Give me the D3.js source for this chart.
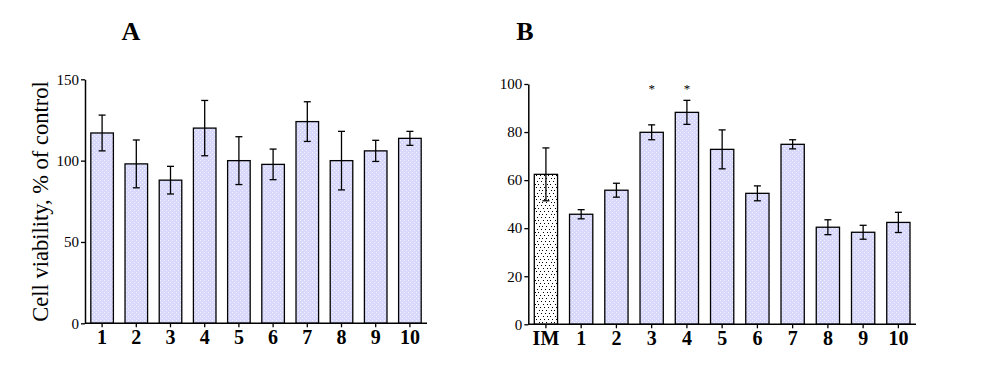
<!DOCTYPE html>
<html><head><meta charset="utf-8">
<script src="https://cdn.jsdelivr.net/npm/d3@7"></script>
<style>body{margin:0;background:#fff}svg{display:block}</style>
</head><body>
<svg id="c" width="985" height="377"></svg>
<script>
// Panel A
const catsA = ["1","2","3","4","5","6","7","8","9","10"];
const valsA = [117, 98, 88, 120, 100, 97.7, 124, 100, 106, 113.7];
const errA  = [11, 14.7, 8.5, 17, 14.7, 9.4, 12.2, 18, 6.5, 4.3];
const ticksA = [0, 50, 100, 150];
// Panel B
const catsB = ["IM","1","2","3","4","5","6","7","8","9","10"];
const valsB = [62.4, 45.8, 55.8, 79.9, 88.2, 72.8, 54.5, 74.9, 40.4, 38.3, 42.4];
const errB  = [11, 1.9, 2.9, 3.1, 5, 8.1, 3.1, 1.9, 3.1, 2.9, 4.2];
const ticksB = [0, 20, 40, 60, 80, 100];
const starsB = ["3","4"];

const svg = d3.select("#c");
const font = "'Liberation Serif','Times New Roman',serif";

const defs = svg.append("defs");
const p1 = defs.append("pattern").attr("id","lav").attr("patternUnits","userSpaceOnUse")
  .attr("width",4).attr("height",4);
p1.append("rect").attr("width",4).attr("height",4).attr("fill","#d8d8fd");
p1.append("rect").attr("x",0).attr("y",0).attr("width",1).attr("height",1).attr("fill","#f6f6ff");
p1.append("rect").attr("x",2).attr("y",2).attr("width",1).attr("height",1).attr("fill","#f6f6ff");
const p2 = defs.append("pattern").attr("id","dots").attr("patternUnits","userSpaceOnUse")
  .attr("width",12).attr("height",12);
p2.append("rect").attr("width",12).attr("height",12).attr("fill","#fff");
[[1,1],[5,1],[9,1],[3,4],[7,4],[10,4],[0,7],[4,7],[8,7],[2,10],[6,10],[11,10]].forEach(([x,y])=>
  p2.append("rect").attr("x",x).attr("y",y).attr("width",1).attr("height",1).attr("fill","#000"));

function panel(cfg){
  const {cats, vals, errs, ticks, x0, x1, y0, y1, ymax, title, titleX, stars, fills} = cfg;
  const x = d3.scaleBand().domain(cats).range([x0, x1]).paddingInner(0.34).paddingOuter(0.17);
  const y = d3.scaleLinear().domain([0, ymax]).range([y0, y1]);
  const g = svg.append("g");
  // bars
  g.selectAll("rect.bar").data(cats).join("rect")
    .attr("x", d=>x(d)).attr("width", x.bandwidth())
    .attr("y", (d,i)=>y(vals[i])).attr("height", (d,i)=>y0 - y(vals[i]))
    .attr("fill", (d,i)=>fills(i)).attr("stroke","#000").attr("stroke-width",1.3);
  // error bars
  const eb = g.selectAll("g.eb").data(cats).join("g");
  eb.append("line").attr("x1", d=>x(d)+x.bandwidth()/2).attr("x2", d=>x(d)+x.bandwidth()/2)
    .attr("y1",(d,i)=>y(vals[i]+errs[i])).attr("y2",(d,i)=>y(vals[i]-errs[i]))
    .attr("stroke","#000").attr("stroke-width",1.3);
  [1,-1].forEach(s=>{
    eb.append("line").attr("x1", d=>x(d)+x.bandwidth()/2-3.5).attr("x2", d=>x(d)+x.bandwidth()/2+3.5)
      .attr("y1",(d,i)=>y(vals[i]+s*errs[i])).attr("y2",(d,i)=>y(vals[i]+s*errs[i]))
      .attr("stroke","#000").attr("stroke-width",1.3);
  });
  // y axis
  const ya = g.append("g").attr("transform",`translate(${x0},0)`)
    .call(d3.axisLeft(y).tickValues(ticks).tickSize(4).tickSizeOuter(0).tickPadding(2));
  ya.select(".domain").attr("stroke-width",1.5);
  ya.selectAll(".tick line").attr("stroke-width",1.3);
  ya.selectAll("text").attr("font-family",font).attr("font-size","15px").attr("fill","#000");
  // x axis
  const xa = g.append("g").attr("transform",`translate(0,${y0})`)
    .call(d3.axisBottom(x).tickSize(4).tickSizeOuter(0).tickPadding(3));
  xa.select(".domain").attr("d",`M${x0},0H${x1}`).attr("stroke-width",1.5);
  xa.selectAll(".tick line").attr("stroke-width",1.3);
  xa.selectAll("text").attr("font-family",font).attr("font-size","20px")
    .attr("font-weight","bold").attr("fill","#000");
  // title
  g.append("text").attr("x",titleX).attr("y",40).attr("text-anchor","middle")
    .attr("font-family",font).attr("font-size","26px").attr("font-weight","bold").text(title);
  // stars
  g.selectAll("text.star").data(stars).join("text").attr("class","star")
    .attr("x", d=>x(d)+x.bandwidth()/2).attr("y", y(ymax)+9)
    .attr("text-anchor","middle").attr("font-family",font).attr("font-size","13px").text("*");
}

panel({cats:catsA, vals:valsA, errs:errA, ticks:ticksA, x0:85, x1:427, y0:323.3, y1:79.3,
  ymax:150, title:"A", titleX:131, stars:[], fills:()=> "url(#lav)"});
panel({cats:catsB, vals:valsB, errs:errB, ticks:ticksB, x0:528.3, x1:916, y0:324.3, y1:84,
  ymax:100, title:"B", titleX:525, stars:starsB, fills:i=> i===0 ? "url(#dots)" : "url(#lav)"});

svg.append("text").attr("transform","translate(48,201.5) rotate(-90)")
  .attr("text-anchor","middle").attr("font-family",font).attr("font-size","22.5px")
  .text("Cell viability, % of control");
</script>
</body></html>
